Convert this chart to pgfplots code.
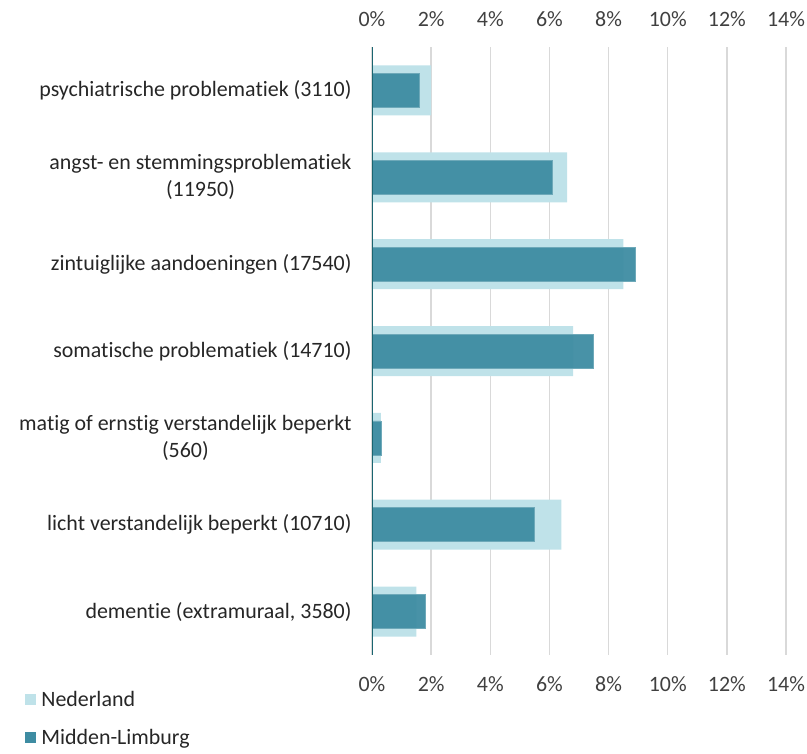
\documentclass[border=0pt]{standalone}
\usepackage{fontspec}
\setmainfont{Carlito}[Ligatures=NoCommon]
\usepackage{pgfplots}
\usepackage{pgfplotstable}
\pgfplotsset{compat=1.18}

\definecolor{nl}{HTML}{BFE2E9}
\definecolor{ml}{HTML}{3E8CA2}
\definecolor{axisteal}{HTML}{1A6570}
\definecolor{gridgray}{HTML}{D9D9D9}
\definecolor{txt}{HTML}{262626}
\definecolor{ticktxt}{HTML}{404040}

% share of the population per group (%), Nederland vs Midden-Limburg
\pgfplotstableread{
idx nl  ml
0   2.0 1.6
1   6.6 6.1
2   8.5 8.9
3   6.8 7.5
4   0.3 0.3
5   6.4 5.5
6   1.5 1.8
}\data

\pgfplotsset{
  common/.style={
    scale only axis, width=414bp, height=608bp,
    at={(372bp,99bp)}, anchor=south west,
    xmin=0, xmax=14, ymin=-0.5, ymax=6.5, y dir=reverse,
    xtick={0,2,...,14},
    xticklabels={0\%,2\%,4\%,6\%,8\%,10\%,12\%,14\%},
    major tick length=0pt,
    axis line style={draw=none},
    /pgf/number format/assume math mode=true,
    xticklabel style={font=\fontsize{22}{26}\selectfont, text=ticktxt},
  }
}

\begin{document}
\begin{tikzpicture}
\path[use as bounding box] (0bp,0bp) rectangle (807bp,754bp);
\begin{axis}[common,
  xticklabel pos=lower,
  xticklabel style={yshift=-18bp},
  ytick={0,...,6},
  yticklabels={
    psychiatrische problematiek (3110),
    {angst- en stemmingsproblematiek\\(11950)},
    zintuiglijke aandoeningen (17540),
    somatische problematiek (14710),
    {matig of ernstig verstandelijk beperkt\\(560)},
    licht verstandelijk beperkt (10710),
    {dementie (extramuraal, 3580)}},
  yticklabel style={align=center, font=\fontsize{22}{27}\selectfont, text=txt, xshift=-17bp},
  xmajorgrids, grid style={gridgray, line width=1.5bp},
  legend image code/.code={\fill[#1, draw=none] (0bp,-5.5bp) rectangle (11bp,5.5bp);},
  legend style={at={(-0.845,-0.052)}, anchor=north west, draw=none, fill=none,
    font=\fontsize{22}{26}\selectfont, text=txt, row sep=18bp,
    /tikz/every odd column/.append style={column sep=3bp}},
  legend cell align=left,
]
\addplot[xbar, bar shift=0pt, bar width=50bp, fill=nl, draw=none, forget plot]
  table[x=nl, y=idx]{\data};
\addplot[xbar, bar shift=0pt, bar width=34bp, fill=ml, fill opacity=0.95, draw=ml!75!white, line width=0.6bp, forget plot]
  table[x=ml, y=idx]{\data};
\draw[axisteal, line width=2bp] (axis cs:0,-0.5) -- (axis cs:0,6.5);
\addlegendimage{fill=nl}
\addlegendentry{Nederland}
\addlegendimage{fill=ml}
\addlegendentry{Midden-Limburg}
\end{axis}
\begin{axis}[common, xticklabel pos=upper, xticklabel style={yshift=17bp}, ytick=\empty]
\end{axis}
\end{tikzpicture}
\end{document}
